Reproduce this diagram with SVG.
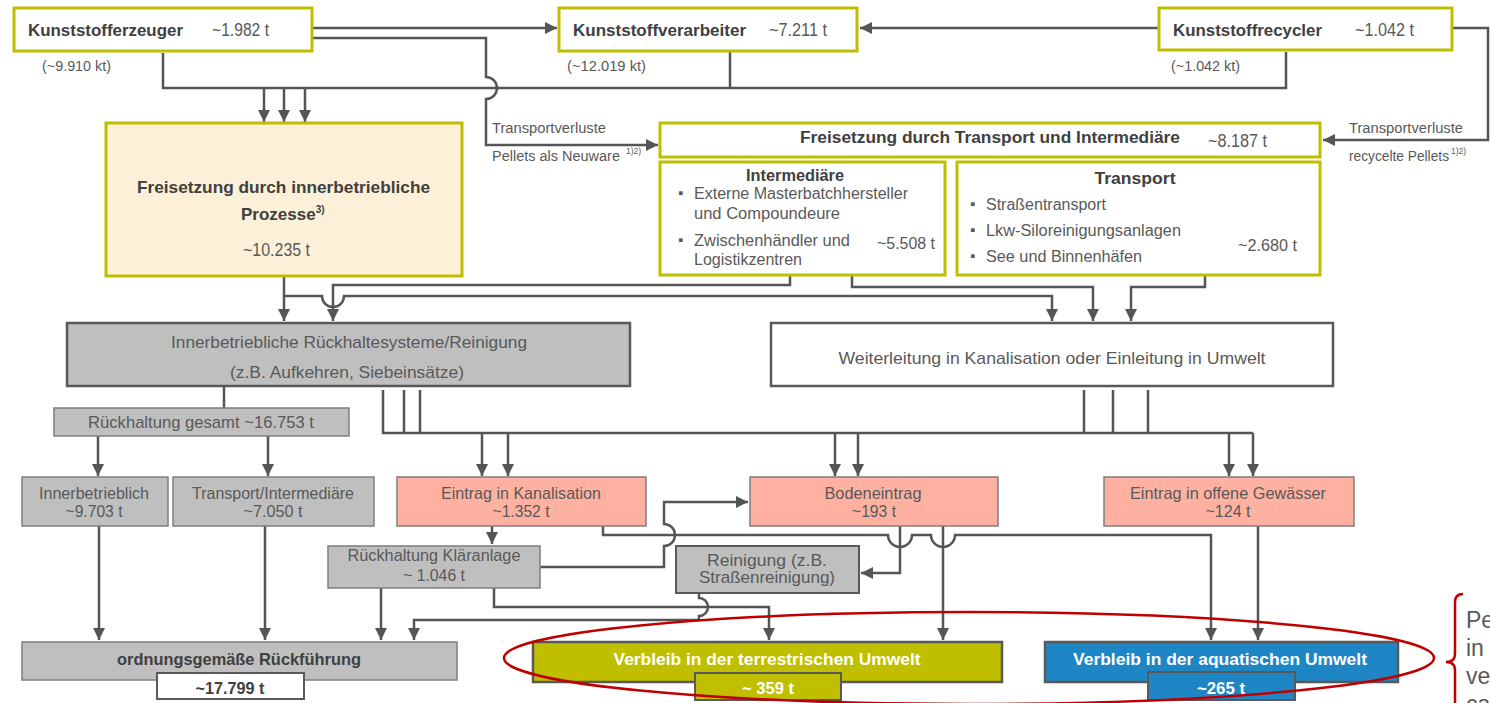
<svg xmlns="http://www.w3.org/2000/svg" width="1490" height="703" viewBox="0 0 1490 703">
<defs>
<marker id="arr" viewBox="0 0 10 10" refX="10" refY="5" markerWidth="12" markerHeight="12" markerUnits="userSpaceOnUse" orient="auto"><path d="M0,0 L10,5 L0,10 z" fill="#555"/></marker>
<style>
text{font-family:"Liberation Sans",Arial,sans-serif;fill:#595959}
.b{font-weight:bold;fill:#404040}
.w{font-weight:bold;fill:#ffffff}
.c{stroke:#555;stroke-width:2.5;fill:none}
.a{marker-end:url(#arr)}
.yg{fill:#ffffff;stroke:#BFBF00;stroke-width:3}
.gr{fill:#BFBFBF;stroke:#7F7F7F;stroke-width:1.5}
.sa{fill:#FFB1A1;stroke:#7F7F7F;stroke-width:1.5}
.dk{stroke:#595959;stroke-width:2.5}
.red{fill:none;stroke:#C00000;stroke-width:2.5}
.bu{font-size:15px;fill:#595959}
</style>
</defs>
<rect width="1490" height="703" fill="#ffffff"/>
<g id="connectors">
<path class="c a" d="M312,28 H557"/>
<path class="c a" d="M312,38 H486 V77 A11,11 0 0 1 486,99 V145 H658"/>
<path class="c" d="M163,53 V88 H1286 V52"/>
<path class="c" d="M730,52 V88"/>
<path class="c a" d="M264,88 V122"/>
<path class="c a" d="M284,88 V122"/>
<path class="c a" d="M305,88 V122"/>
<path class="c a" d="M1159,28 H860"/>
<path class="c a" d="M1452,28 H1488 V140 H1323"/>
<path class="c a" d="M284,277 V321"/>
<path class="c a" d="M284,296 H322 A11,11 0 0 0 344,296 H1052 V321"/>
<path class="c a" d="M790,276 V285 H333 V321"/>
<path class="c a" d="M852,276 V287 H1093 V321"/>
<path class="c a" d="M1205,276 V287 H1131 V321"/>
<path class="c" d="M224,386 V408"/>
<path class="c a" d="M98,436 V476"/>
<path class="c a" d="M268,436 V476"/>
<path class="c" d="M383,390 V433 H1253 M404,390 V433 M420,390 V433 M1084,390 V433 M1113,390 V433 M1148,390 V433"/>
<path class="c a" d="M482,433 V476"/>
<path class="c a" d="M508,433 V476"/>
<path class="c a" d="M835,433 V476"/>
<path class="c a" d="M858,433 V476"/>
<path class="c a" d="M1229,433 V476"/>
<path class="c a" d="M1253,433 V476"/>
<path class="c a" d="M99,526 V640"/>
<path class="c a" d="M265,526 V640"/>
<path class="c a" d="M492,526 V544"/>
<path class="c a" d="M603,526 V535 H888 A12,12 0 0 0 912,535 H931 A12,12 0 0 0 955,535 H1211 V640"/>
<path class="c a" d="M540,567 H664 V546 A11,11 0 0 0 664,524 V502 H748"/>
<path class="c a" d="M900,526 V573 H861"/>
<path class="c a" d="M943,526 V640"/>
<path class="c a" d="M1258,526 V640"/>
<path class="c a" d="M381,588 V640"/>
<path class="c a" d="M494,588 V607 H769 V640"/>
<path class="c a" d="M699,594 V598 A9,9 0 0 1 699,616 V620 H414 V640"/>
</g>
<g id="erzeuger">
<rect class="yg" x="14" y="8" width="298" height="43"/>
<text class="b" x="28" y="36" font-size="16" textLength="155" lengthAdjust="spacingAndGlyphs">Kunststofferzeuger</text>
<text x="212" y="36" font-size="18" textLength="57" lengthAdjust="spacingAndGlyphs">~1.982 t</text>
<text x="42" y="71" font-size="15" textLength="69" lengthAdjust="spacingAndGlyphs">(~9.910 kt)</text>
</g>
<g id="verarbeiter">
<rect class="yg" x="559" y="8" width="298" height="43"/>
<text class="b" x="573" y="36" font-size="16" textLength="173" lengthAdjust="spacingAndGlyphs">Kunststoffverarbeiter</text>
<text x="769" y="36" font-size="18" textLength="58" lengthAdjust="spacingAndGlyphs">~7.211 t</text>
<text x="567" y="71" font-size="15" textLength="79" lengthAdjust="spacingAndGlyphs">(~12.019 kt)</text>
</g>
<g id="recycler">
<rect class="yg" x="1159" y="8" width="293" height="42"/>
<text class="b" x="1173" y="36" font-size="16" textLength="149" lengthAdjust="spacingAndGlyphs">Kunststoffrecycler</text>
<text x="1355" y="36" font-size="18" textLength="59" lengthAdjust="spacingAndGlyphs">~1.042 t</text>
<text x="1171" y="71" font-size="15" textLength="69" lengthAdjust="spacingAndGlyphs">(~1.042 kt)</text>
</g>
<g id="label-neuware">
<text x="492" y="133" font-size="14" textLength="114" lengthAdjust="spacingAndGlyphs">Transportverluste</text>
<text x="492" y="161" font-size="14" textLength="128" lengthAdjust="spacingAndGlyphs">Pellets als Neuware</text>
<text x="626" y="154" font-size="8.5">1)2)</text>
</g>
<g id="label-recycelt">
<text x="1349" y="133" font-size="14" textLength="114" lengthAdjust="spacingAndGlyphs">Transportverluste</text>
<text x="1349" y="161" font-size="14" textLength="100" lengthAdjust="spacingAndGlyphs">recycelte Pellets</text>
<text x="1451" y="154" font-size="8.5">1)2)</text>
</g>
<g id="freisetzung-innerbetrieblich">
<rect x="106" y="123" width="356" height="153" fill="#FCF0D9" stroke="#BFBF00" stroke-width="3"/>
<text class="b" x="137" y="193" font-size="17" textLength="293" lengthAdjust="spacingAndGlyphs">Freisetzung  durch  innerbetriebliche</text>
<text class="b" x="241" y="220" font-size="17">Prozesse<tspan font-size="10" dy="-7">3)</tspan></text>
<text x="243" y="256" font-size="18" textLength="67" lengthAdjust="spacingAndGlyphs">~10.235 t</text>
</g>
<g id="freisetzung-transport">
<rect class="yg" x="660" y="123" width="660" height="34"/>
<text class="b" x="800" y="143" font-size="16" textLength="380" lengthAdjust="spacingAndGlyphs">Freisetzung  durch  Transport  und  Intermediäre</text>
<text x="1208" y="147" font-size="18" textLength="59" lengthAdjust="spacingAndGlyphs">~8.187 t</text>
</g>
<g id="intermediaere">
<rect class="yg" x="660" y="162" width="285" height="113"/>
<text class="b" x="795" y="181" font-size="16" text-anchor="middle" textLength="98" lengthAdjust="spacingAndGlyphs">Intermediäre</text>
<text class="bu" x="678" y="198">▪</text>
<text x="694" y="199" font-size="16" textLength="214" lengthAdjust="spacingAndGlyphs">Externe Masterbatchhersteller</text>
<text x="694" y="219" font-size="16" textLength="146" lengthAdjust="spacingAndGlyphs">und Compoundeure</text>
<text class="bu" x="678" y="245">▪</text>
<text x="694" y="246" font-size="16" textLength="156" lengthAdjust="spacingAndGlyphs">Zwischenhändler und</text>
<text x="694" y="265" font-size="16" textLength="108" lengthAdjust="spacingAndGlyphs">Logistikzentren</text>
<text x="877" y="249" font-size="17" textLength="58" lengthAdjust="spacingAndGlyphs">~5.508 t</text>
</g>
<g id="transport">
<rect class="yg" x="957" y="162" width="363" height="113"/>
<text class="b" x="1135" y="184" font-size="16" text-anchor="middle" textLength="81" lengthAdjust="spacingAndGlyphs">Transport</text>
<text class="bu" x="970" y="209">▪</text>
<text x="986" y="210" font-size="16" textLength="120" lengthAdjust="spacingAndGlyphs">Straßentransport</text>
<text class="bu" x="970" y="235">▪</text>
<text x="986" y="236" font-size="16" textLength="195" lengthAdjust="spacingAndGlyphs">Lkw-Siloreinigungsanlagen</text>
<text class="bu" x="970" y="261">▪</text>
<text x="986" y="262" font-size="16" textLength="156" lengthAdjust="spacingAndGlyphs">See und Binnenhäfen</text>
<text x="1238" y="251" font-size="17" textLength="59" lengthAdjust="spacingAndGlyphs">~2.680 t</text>
</g>
<g id="rueckhaltesysteme">
<rect x="67" y="323" width="563" height="63" fill="#BFBFBF" class="dk"/>
<text x="349" y="348" font-size="17" text-anchor="middle" textLength="356" lengthAdjust="spacingAndGlyphs">Innerbetriebliche  Rückhaltesysteme/Reinigung</text>
<text x="347" y="378" font-size="17" text-anchor="middle" textLength="234" lengthAdjust="spacingAndGlyphs">(z.B.  Aufkehren,  Siebeinsätze)</text>
</g>
<g id="weiterleitung">
<rect x="771" y="323" width="562" height="63" fill="#ffffff" class="dk"/>
<text x="1052" y="364" font-size="17" text-anchor="middle" textLength="427" lengthAdjust="spacingAndGlyphs">Weiterleitung  in  Kanalisation  oder  Einleitung  in  Umwelt</text>
</g>
<g id="rueckhaltung-gesamt">
<rect class="gr" x="54" y="408" width="295" height="28"/>
<text x="201" y="428" font-size="17" text-anchor="middle" textLength="226" lengthAdjust="spacingAndGlyphs">Rückhaltung gesamt  ~16.753 t</text>
</g>
<g id="innerbetrieblich">
<rect class="gr" x="22" y="477" width="146" height="49"/>
<text x="94" y="499" font-size="17" text-anchor="middle" textLength="110" lengthAdjust="spacingAndGlyphs">Innerbetrieblich</text>
<text x="94" y="517" font-size="17" text-anchor="middle" textLength="57" lengthAdjust="spacingAndGlyphs">~9.703 t</text>
</g>
<g id="transport-intermediaere">
<rect class="gr" x="173" y="477" width="201" height="49"/>
<text x="273" y="499" font-size="17" text-anchor="middle" textLength="162" lengthAdjust="spacingAndGlyphs">Transport/Intermediäre</text>
<text x="273" y="517" font-size="17" text-anchor="middle" textLength="59" lengthAdjust="spacingAndGlyphs">~7.050 t</text>
</g>
<g id="kanalisation">
<rect class="sa" x="397" y="477" width="249" height="49"/>
<text x="521" y="499" font-size="17" text-anchor="middle" textLength="160" lengthAdjust="spacingAndGlyphs">Eintrag in Kanalisation</text>
<text x="521" y="517" font-size="17" text-anchor="middle" textLength="57" lengthAdjust="spacingAndGlyphs">~1.352 t</text>
</g>
<g id="bodeneintrag">
<rect class="sa" x="750" y="477" width="248" height="49"/>
<text x="873" y="499" font-size="17" text-anchor="middle" textLength="97" lengthAdjust="spacingAndGlyphs">Bodeneintrag</text>
<text x="874" y="517" font-size="17" text-anchor="middle" textLength="44" lengthAdjust="spacingAndGlyphs">~193 t</text>
</g>
<g id="gewaesser">
<rect class="sa" x="1104" y="477" width="250" height="49"/>
<text x="1228" y="499" font-size="17" text-anchor="middle" textLength="196" lengthAdjust="spacingAndGlyphs">Eintrag in offene Gewässer</text>
<text x="1228" y="517" font-size="17" text-anchor="middle" textLength="45" lengthAdjust="spacingAndGlyphs">~124 t</text>
</g>
<g id="klaeranlage">
<rect class="gr" x="328" y="546" width="212" height="42"/>
<text x="434" y="561" font-size="17" text-anchor="middle" textLength="173" lengthAdjust="spacingAndGlyphs">Rückhaltung Kläranlage</text>
<text x="434" y="581" font-size="17" text-anchor="middle" textLength="62" lengthAdjust="spacingAndGlyphs">~ 1.046 t</text>
</g>
<g id="reinigung">
<rect x="676" y="546" width="183" height="47" fill="#BFBFBF" stroke="#595959" stroke-width="2"/>
<text x="767" y="566" font-size="17" text-anchor="middle" textLength="120" lengthAdjust="spacingAndGlyphs">Reinigung  (z.B.</text>
<text x="767" y="583" font-size="17" text-anchor="middle" textLength="136" lengthAdjust="spacingAndGlyphs">Straßenreinigung)</text>
</g>
<g id="rueckfuehrung">
<rect class="gr" x="22" y="642" width="435" height="38"/>
<text class="b" x="239" y="665" font-size="17" text-anchor="middle" textLength="244" lengthAdjust="spacingAndGlyphs">ordnungsgemäße Rückführung</text>
<rect x="157" y="673" width="147" height="26" fill="#ffffff" stroke="#595959" stroke-width="2"/>
<text class="b" x="230" y="694" font-size="17" text-anchor="middle" textLength="69" lengthAdjust="spacingAndGlyphs">~17.799 t</text>
</g>
<g id="terrestrisch">
<rect x="533" y="642" width="469" height="40" fill="#BFBF00" stroke="#595959" stroke-width="2.5"/>
<text class="w" x="767" y="665" font-size="16" text-anchor="middle" textLength="307" lengthAdjust="spacingAndGlyphs">Verbleib  in  der  terrestrischen  Umwelt</text>
<rect x="695" y="673" width="146" height="27" fill="#BFBF00" stroke="#595959" stroke-width="2"/>
<text class="w" x="768" y="694" font-size="17" text-anchor="middle" textLength="52" lengthAdjust="spacingAndGlyphs">~ 359 t</text>
</g>
<g id="aquatisch">
<rect x="1045" y="642" width="353" height="40" fill="#1F86C6" stroke="#595959" stroke-width="2.5"/>
<text class="w" x="1220" y="665" font-size="16" text-anchor="middle" textLength="294" lengthAdjust="spacingAndGlyphs">Verbleib  in  der  aquatischen  Umwelt</text>
<rect x="1148" y="672" width="147" height="28" fill="#1F86C6" stroke="#595959" stroke-width="2"/>
<text class="w" x="1221" y="694" font-size="17" text-anchor="middle" textLength="48" lengthAdjust="spacingAndGlyphs">~265 t</text>
</g>
<g id="annotation">
<ellipse class="red" cx="969" cy="658" rx="465" ry="46"/>
<path class="red" d="M1463,594 Q1455,594 1455,602 V654 Q1455,662 1446,662 Q1455,662 1455,670 V712"/>
<text x="1466" y="628" font-size="23">Pe</text>
<text x="1466" y="656" font-size="23">in</text>
<text x="1466" y="684" font-size="23">ve</text>
<text x="1466" y="712" font-size="23">ca</text>
</g>
</svg>
